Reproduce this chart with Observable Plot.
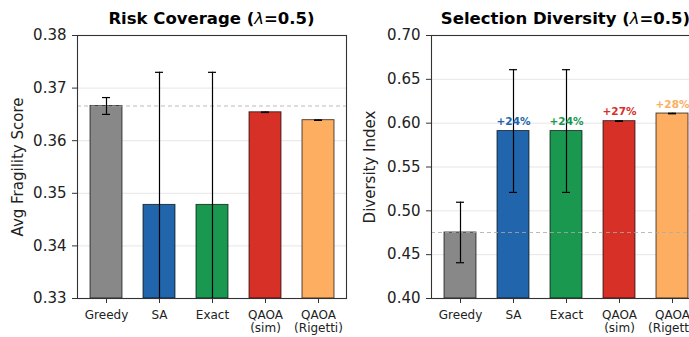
<!DOCTYPE html>
<html><head><meta charset="utf-8">
<script src="https://cdn.jsdelivr.net/npm/d3@7"></script>
<script src="https://cdn.jsdelivr.net/npm/@observablehq/plot@0.6"></script>
<style>
html,body{margin:0;padding:0;background:#fff;overflow:hidden;}
#wrap{position:relative;width:689px;height:337px;overflow:hidden;font-family:"DejaVu Sans",sans-serif;}
.panel{position:absolute;top:0;width:350px;}
.panel svg{max-width:none !important;}
.title{position:absolute;top:9px;font-weight:bold;font-size:16.5px;line-height:20px;text-align:center;width:269px;white-space:nowrap;color:#000;}
.title i{font-weight:normal;}
</style></head>
<body><div id="wrap"></div>
<script>
const methods = ["Greedy", "SA", "Exact", "QAOA\n(sim)", "QAOA\n(Rigetti)"];
const colors = ["#888888", "#2166ac", "#1a9850", "#d73027", "#fdae61"];
const riskMean = [0.3666, 0.3478, 0.3478, 0.3654, 0.3639];
const riskErr = [0.0016, 0.0252, 0.0252, 0.00004, 0.00003];
const divMean = [0.4753, 0.5910, 0.5910, 0.6023, 0.6110];
const divErr = [0.0345, 0.0700, 0.0700, 0.0003, 0.0003];
const gainLabels = ["", "+24%", "+24%", "+27%", "+28%"];
const riskTicks = [0.33, 0.34, 0.35, 0.36, 0.37, 0.38];
const divTicks = [0.40, 0.45, 0.50, 0.55, 0.60, 0.65, 0.70];

function panel({means, errs, ticks, domain, label, labelDx, labels}) {
  const data = methods.map((m, i) => ({m, v: means[i], e: errs[i], c: colors[i], g: labels ? labels[i] : ""}));
  const base = means[0];
  return Plot.plot({
    width: 350, height: 337,
    marginLeft: 77, marginRight: 4, marginTop: 35, marginBottom: 39,
    style: {fontFamily: "DejaVu Sans, sans-serif", background: "transparent", overflow: "visible"},
    x: {type: "band", domain: methods, paddingInner: 0.4, paddingOuter: 0.23, align: 0.5},
    y: {domain, ticks},
    marks: [
      Plot.gridY(ticks, {stroke: "#000", strokeOpacity: 0.1, strokeWidth: 1}),
      Plot.barY(data, {x: "m", y1: domain[0], y2: "v", fill: "c", stroke: "#000", strokeOpacity: 0.75, strokeWidth: 0.9, clip: true}),
      Plot.ruleY([base], {stroke: "#aaa", strokeDasharray: "4,3", strokeWidth: 1.1, strokeOpacity: 0.8}),
      Plot.ruleX(data, {x: "m", y1: d => d.v - d.e, y2: d => d.v + d.e, stroke: "#000", strokeWidth: 1.2, clip: true}),
      Plot.tickY(data, {x: "m", y: d => d.v + d.e, stroke: "#000", strokeWidth: 1.2, insetLeft: 12, insetRight: 12, clip: true}),
      Plot.tickY(data, {x: "m", y: d => d.v - d.e, stroke: "#000", strokeWidth: 1.2, insetLeft: 12, insetRight: 12, clip: true}),
      Plot.text(data.filter(d => d.g), {x: "m", y: "v", text: "g", fill: "c", fontWeight: "bold", fontSize: 10.5, lineAnchor: "bottom", dy: -6}),
      Plot.axisY(ticks, {tickSize: 5, tickPadding: 6, fontSize: 15, tickFormat: d3.format(".2f"), label: null, stroke: "#333", color: "#222"}),
      Plot.text([label], {frameAnchor: "left", rotate: -90, textAnchor: "middle", dx: -labelDx, fontSize: 15, fill: "#222"}),
      Plot.axisX({tickSize: 5, tickPadding: 7, fontSize: 12, label: null, stroke: "#333", color: "#222", lineHeight: 1.05}),
      Plot.frame({stroke: "#333", strokeWidth: 1.1})
    ]
  });
}

const wrap = document.getElementById("wrap");
const p1 = panel({means: riskMean, errs: riskErr, ticks: riskTicks, domain: [0.33, 0.38], label: "Avg Fragility Score", labelDx: 59});
const p2 = panel({means: divMean, errs: divErr, ticks: divTicks, domain: [0.40, 0.70], label: "Diversity Index", labelDx: 61, labels: gainLabels});
const d1 = document.createElement("div"); d1.className = "panel"; d1.style.left = "0px"; d1.appendChild(p1);
const d2 = document.createElement("div"); d2.className = "panel"; d2.style.left = "354px"; d2.appendChild(p2);
wrap.appendChild(d1); wrap.appendChild(d2);
const t1 = document.createElement("div"); t1.className = "title"; t1.style.left = "77px"; t1.innerHTML = "Risk Coverage (<i>λ</i>=0.5)";
const t2 = document.createElement("div"); t2.className = "title"; t2.style.left = "431px"; t2.innerHTML = "Selection Diversity (<i>λ</i>=0.5)";
wrap.appendChild(t1); wrap.appendChild(t2);
</script></body></html>
